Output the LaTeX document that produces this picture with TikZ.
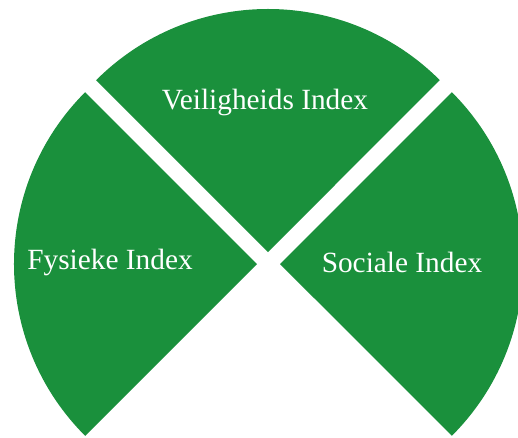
\documentclass[tikz,border=0pt]{standalone}
\usepackage{fontspec}
\setmainfont{Liberation Serif}
\newlength{\du}
\setlength{\du}{15\unitlength}
\begin{document}
\begin{tikzpicture}
\pgftransformxscale{1.000000}
\pgftransformyscale{-1.000000}
\useasboundingbox (0.000000\du,0.000000\du) rectangle (25.900000\du,21.850000\du);
\clip (0.000000\du,0.000000\du) rectangle (25.900000\du,21.850000\du);
\definecolor{dialinecolor}{rgb}{0.102000, 0.565000, 0.235000}
\pgfsetfillcolor{dialinecolor}
% veiligheids
{
\pgfpathmoveto{\pgfpoint{13.400000\du}{12.600000\du}}
\pgfpathlineto{\pgfpoint{4.808000\du}{4.008000\du}}
\pgfpatharc{225}{315}{12.150000\du and 12.150000\du}
\pgfpathclose
\pgfusepath{fill}
}
% fysieke
{
\pgfpathmoveto{\pgfpoint{12.850000\du}{13.200000\du}}
\pgfpathlineto{\pgfpoint{4.258000\du}{21.792000\du}}
\pgfpatharc{135}{225}{12.150000\du and 12.150000\du}
\pgfpathclose
\pgfusepath{fill}
}
% sociale
{
\pgfpathmoveto{\pgfpoint{14.000000\du}{13.200000\du}}
\pgfpathlineto{\pgfpoint{22.592000\du}{4.608000\du}}
\pgfpatharc{-45}{45}{12.150000\du and 12.150000\du}
\pgfpathclose
\pgfusepath{fill}
}
\definecolor{dialinecolor}{rgb}{1.000000, 1.000000, 1.000000}
\node[text=dialinecolor,font=\fontsize{22}{26}\selectfont] (veiligheids) at (13.250000\du,5.100000\du){Veiligheids Index};
\node[text=dialinecolor,font=\fontsize{22}{26}\selectfont] (fysieke) at (5.500000\du,13.100000\du){Fysieke Index};
\node[text=dialinecolor,font=\fontsize{22}{26}\selectfont] (sociale) at (20.100000\du,13.100000\du){Sociale Index};
\end{tikzpicture}
\end{document}
